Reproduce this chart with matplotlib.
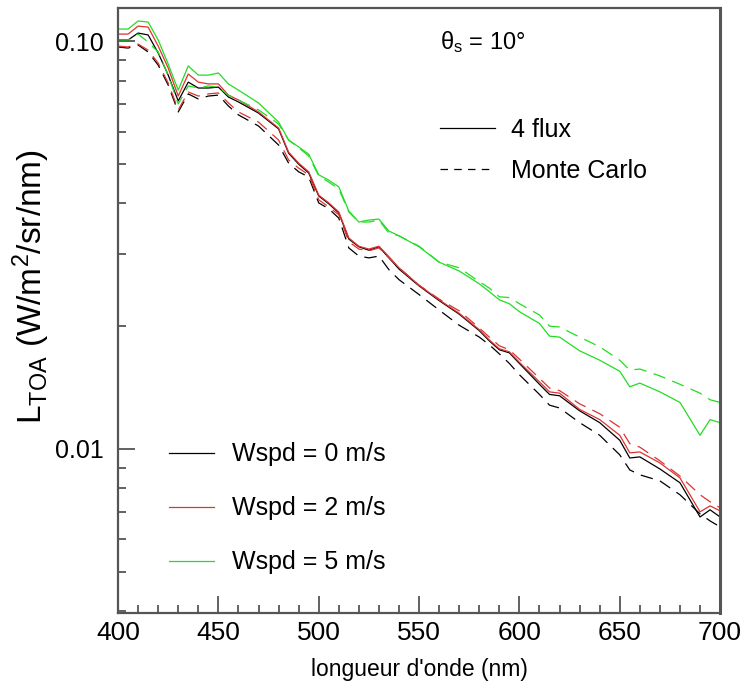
import numpy as np
import matplotlib
matplotlib.use("Agg")
import matplotlib.pyplot as plt
from matplotlib.lines import Line2D
from matplotlib.ticker import LogLocator, NullFormatter, FixedLocator, FixedFormatter

plt.rcParams['font.family'] = ['Liberation Sans', 'DejaVu Sans']
plt.rcParams['mathtext.fontset'] = 'custom'
plt.rcParams['mathtext.rm'] = 'Liberation Sans'
plt.rcParams['mathtext.it'] = 'Liberation Sans'

# wavelengths (nm)
wl = [400, 405, 410, 415, 420, 425, 430, 435, 440, 445, 450, 455, 460, 470, 480, 485,
      490, 495, 500, 505, 510, 515, 520, 525, 530, 535, 540, 550, 560, 570, 580, 585,
      590, 595, 600, 610, 615, 620, 630, 640, 650, 655, 660, 670, 680, 690, 695, 700]

# Wspd = 0 m/s
k_4flux = [0.1006, 0.1006, 0.1046, 0.1035, 0.0935, 0.0825, 0.0713, 0.0793, 0.0767, 0.0767,
           0.0771, 0.0729, 0.0709, 0.0666, 0.0609, 0.0531, 0.0499, 0.0475, 0.0417, 0.0399,
           0.0379, 0.0327, 0.0313, 0.0307, 0.0313, 0.0294, 0.0276, 0.0251, 0.0231, 0.0214,
           0.0195, 0.0184, 0.0175, 0.0172, 0.0162, 0.0144, 0.0136, 0.0135, 0.0124, 0.0116,
           0.0105, 0.00950, 0.00956, 0.00893, 0.00826, 0.00681, 0.00709, 0.00681]
k_mc = [0.0967, 0.0961, 0.0978, 0.0940, 0.0873, 0.0780, 0.0670, 0.0742, 0.0721, 0.0733,
        0.0737, 0.0693, 0.0659, 0.0619, 0.0556, 0.0502, 0.0478, 0.0464, 0.0401, 0.0388,
        0.0368, 0.0311, 0.0297, 0.0294, 0.0297, 0.0275, 0.0260, 0.0239, 0.0219, 0.0201,
        0.0188, 0.0180, 0.0171, 0.0162, 0.0152, 0.0136, 0.0128, 0.0126, 0.0116, 0.0108,
        0.00967, 0.00888, 0.00864, 0.00835, 0.00772, 0.00693, 0.00666, 0.00644]

# Wspd = 2 m/s
r_4flux = [0.1040, 0.1040, 0.1088, 0.1082, 0.0972, 0.0859, 0.0733, 0.0830, 0.0793, 0.0785,
           0.0785, 0.0737, 0.0717, 0.0670, 0.0612, 0.0534, 0.0502, 0.0478, 0.0419, 0.0401,
           0.0381, 0.0329, 0.0314, 0.0309, 0.0314, 0.0296, 0.0278, 0.0252, 0.0232, 0.0215,
           0.0196, 0.0185, 0.0176, 0.0173, 0.0163, 0.0146, 0.0138, 0.0137, 0.0125, 0.0118,
           0.0108, 0.00978, 0.00983, 0.00924, 0.00849, 0.00701, 0.00725, 0.00705]
r_mc = [0.0972, 0.0967, 0.0983, 0.0950, 0.0883, 0.0789, 0.0678, 0.0750, 0.0733, 0.0742,
        0.0746, 0.0705, 0.0670, 0.0633, 0.0572, 0.0511, 0.0488, 0.0470, 0.0408, 0.0392,
        0.0375, 0.0322, 0.0309, 0.0306, 0.0311, 0.0294, 0.0278, 0.0252, 0.0233, 0.0218,
        0.0198, 0.0188, 0.0179, 0.0175, 0.0166, 0.0149, 0.0141, 0.0139, 0.0129, 0.0122,
        0.0113, 0.0103, 0.0101, 0.00935, 0.00858, 0.00772, 0.00742, 0.00717]

# Wspd = 5 m/s
g_4flux = [0.1070, 0.1070, 0.1120, 0.1113, 0.1006, 0.0878, 0.0758, 0.0869, 0.0825, 0.0825,
           0.0835, 0.0785, 0.0758, 0.0705, 0.0633, 0.0572, 0.0550, 0.0528, 0.0470, 0.0456,
           0.0439, 0.0383, 0.0360, 0.0364, 0.0366, 0.0342, 0.0333, 0.0313, 0.0287, 0.0273,
           0.0254, 0.0243, 0.0232, 0.0227, 0.0217, 0.0203, 0.0189, 0.0188, 0.0174, 0.0165,
           0.0155, 0.0142, 0.0145, 0.0138, 0.0130, 0.0108, 0.0118, 0.0116]
g_mc = [0.1006, 0.1006, 0.1040, 0.0994, 0.0940, 0.0825, 0.0701, 0.0776, 0.0767, 0.0776,
        0.0771, 0.0737, 0.0717, 0.0678, 0.0626, 0.0572, 0.0547, 0.0523, 0.0467, 0.0451,
        0.0434, 0.0381, 0.0360, 0.0360, 0.0364, 0.0338, 0.0333, 0.0314, 0.0287, 0.0278,
        0.0257, 0.0248, 0.0236, 0.0235, 0.0227, 0.0213, 0.0200, 0.0199, 0.0188, 0.0178,
        0.0165, 0.0156, 0.0157, 0.0151, 0.0144, 0.0137, 0.0132, 0.0130]

wind_labels = ['Wspd = 0 m/s', 'Wspd = 2 m/s', 'Wspd = 5 m/s']
colors = ['black', '#dd3333', '#22dd22']
dash = (0, (10, 6))

fig = plt.figure(figsize=(7.47, 6.84), dpi=100)
ax = fig.add_axes([0.158, 0.1038, 0.806, 0.8845])

series = [(k_4flux, k_mc), (r_4flux, r_mc), (g_4flux, g_mc)]
for (sol, mc), c in zip(series, colors):
    ax.plot(wl, sol, color=c, lw=0.9)
    ax.plot(wl, mc, color=c, lw=0.9, linestyle=dash)

ax.set_yscale('log')
ax.set_xlim(400, 700)
ax.set_ylim(0.00396, 0.1205)

ax.set_xticks(np.arange(400, 701, 50))
ax.set_xticks(np.arange(400, 701, 10), minor=True)
ax.yaxis.set_major_locator(FixedLocator([0.01, 0.1]))
ax.yaxis.set_major_formatter(FixedFormatter(['0.01', '0.10']))
ax.yaxis.set_minor_locator(LogLocator(base=10, subs=np.arange(2, 10)))
ax.yaxis.set_minor_formatter(NullFormatter())

spine_col = '#555555'
for s in ax.spines.values():
    s.set_color(spine_col)
    s.set_linewidth(1.6)
ax.spines['right'].set_linewidth(2.2)
ax.tick_params(which='major', direction='in', length=12, width=1.3, color=spine_col,
               labelsize=19, pad=6)
ax.tick_params(which='minor', direction='in', length=6, width=1.3, color=spine_col)
ax.tick_params(axis='y', which='major', labelsize=18, pad=10)
ax.tick_params(axis='x', which='minor', length=6)

ax.set_xlabel("longueur d'onde (nm)", fontsize=16.5, labelpad=9)
ax.set_ylabel(r"L$_{\mathrm{TOA}}$ (W/m$^2$/sr/nm)", fontsize=24)
ax.yaxis.set_label_coords(-0.11, 0.54)

ax.text(0.606, 0.944, r"θ$_\mathrm{s}$ = 10°", transform=ax.transAxes,
        fontsize=17, ha='center', va='center')

h1 = [Line2D([], [], color='black', lw=0.9),
      Line2D([], [], color='black', lw=0.9, linestyle=(0, (6, 5)))]
leg1 = ax.legend(h1, ['4 flux', 'Monte Carlo'], loc='upper left',
                 bbox_to_anchor=(0.535, 0.818), frameon=False, fontsize=18,
                 handlelength=2.2, handletextpad=0.65, labelspacing=0.68,
                 borderpad=0, borderaxespad=0)
ax.add_artist(leg1)

h2 = [Line2D([], [], color=c, lw=0.9) for c in colors]
ax.legend(h2, wind_labels, loc='upper left', bbox_to_anchor=(0.085, 0.282),
          frameon=False, fontsize=18, handlelength=1.8, handletextpad=0.7,
          labelspacing=1.2, borderpad=0, borderaxespad=0)

fig.savefig('out.png', dpi=100)
